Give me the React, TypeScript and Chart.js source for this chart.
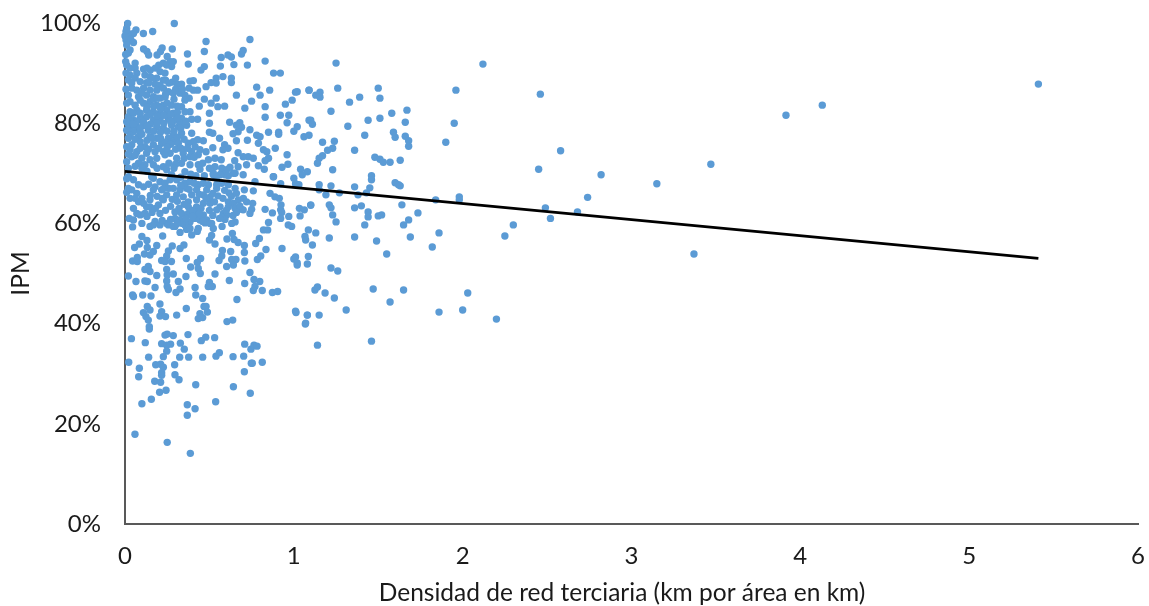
import React, { useEffect, useRef } from "react";
import { Chart, registerables } from "chart.js";

Chart.register(...registerables);

type P = [number, number];

const xTicks = [0, 1, 2, 3, 4, 5, 6];
const yTicks = [0, 20, 40, 60, 80, 100];
const xTitle = "Densidad de red terciaria (km por área en km)";
const yTitle = "IPM";
const trend: P[] = [[0, 70.4], [5.41, 53]];

const band90up: P[] = [
  [.016,99.9],[.292,99.9],[.065,98.6],[.164,98.3],[.109,97.9],[.48,96.3],[.74,96.7],[.01,98.9],[.006,98.3],[.02,97.9],[.05,97.9],[0,97.4],[.02,97.1],[.006,96.6],[.034,96.7],[.05,96.1],[.01,95.6],
  [.11,94.8],[.13,94.3],[.14,93.6],[.19,93.6],[.21,94.3],[.22,95],[.28,94.8],[.25,93.3],[.37,93.8],[.47,94.3],[.57,93.1],[.61,93.6],[.63,93.2],[.69,93.8],[.70,94.5],[.03,94.6],[.02,94],[.004,93.7],
  [.375,91.8],[.47,91.3],[.45,90.6],[.565,91.4],[.645,91.7],[.725,91.6],[.83,92.4],[.88,90],[.92,90],[.004,92.3],[.06,92],[.01,91.6],[.03,91],[.06,91],[.006,90],[.07,90],[.11,90.8],[.15,90.6],[.2,91.6],[.227,92],[.267,92.3],[.286,92.3],[.247,91.6],[.207,90.3],[.237,90],[.276,91.3],
  [1.25,92],[2.12,91.8],
];
const band80to90: P[] = [
  [.58,89.3],[.63,89],[.63,88.1],[.54,89],[.51,88.1],[.54,88],[.48,87.3],[.385,88.4],[.405,88.5],[.31,87.8],[.335,87.8],[.28,88.2],[.43,86.6],[.405,86.6],[.66,85.6],[.78,87.2],[.80,85.6],[.857,86.6],[1.02,86.3],[1.09,86.6],[.75,84.4],[.71,83],[.83,83.3],[.83,81.2],[.95,83.8],[.99,84.6],[.92,81.6],[.97,81.6],[.96,80.1],[1.09,80.6],
  [.47,84.8],[.54,85],[.51,84],[.55,83.3],[.59,83.4],[.44,83.4],[.38,85],[.385,82.3],[.395,80.8],[.43,80.8],[.50,82],[.5,80],[.62,80.2],[.68,80.1],
  [.03,89.6],[.118,89.6],[.148,89.3],[.06,89],[.02,88.6],[.09,88.3],[.128,88.1],[.188,89],[.227,88.6],[.207,87.6],[.178,87.8],[.006,86.8],[.04,87],[.07,86.6],[.11,87],[.148,86.6],[.188,86.6],[.227,87],[.257,86.3],[.286,86],[.326,86],[.355,85.6],
  [.02,85.6],[.08,85.3],[.128,85.6],[.168,85.3],[.207,85],[.237,85.2],[.03,84.3],[.06,83.6],[.01,84],[.148,84.3],[.11,84],[.188,83.6],[.227,83.6],[.276,83.6],[.355,84.6],[.335,83.3],[.07,82.6],[.03,82.3],[.128,82.6],[.168,82.3],[.207,82],[.247,82.6],[.286,82],[.355,82.3],[.335,81],[.02,81.3],[.01,80.3],[.05,80.6],[.09,81],[.128,81.3],[.168,80.6],[.207,80.6],[.257,81],[.296,80.6],
  [1.26,87],[1.5,87],[1.155,86.2],[1.09,86.6],[1.13,85.6],[1.155,85.2],[1.01,86.2],[1.51,85],[1.39,85.2],[1.33,84.2],[1.67,82.6],[1.58,82],[1.66,80.2],[1.95,80],[1.44,80.6],[1.51,81],[1.1,80.6],[1.11,79.8],[1.22,82.4],[1.96,86.6],[2.46,85.8],[5.41,87.8],[4.13,83.6],[3.915,81.6],
];
const band70to80: P[] = [
  [1.02,79.3],[1.0,78.4],[1.06,77.3],[1.09,77.6],[.66,79.6],[.69,79.2],[.67,78.3],[.64,77.9],[.66,76.5],[.725,76.6],[.74,78.7],[.78,77.6],[.80,77.3],[.79,76],[.85,78.2],[.91,78.2],[.91,77.8],[.89,75],[.82,74.7],[.84,74.3],[.85,73],[.83,72.5],[.96,73.7],[.965,71.8],[.93,71.2],[1.04,70.8],[.79,71.5],[.825,70.8],[.76,73],[.73,73.3],[.70,73.3],[.67,74.1],[.72,71.7],[.67,71.3],[.65,72.5],
  [.59,75.7],[.61,75],[.58,74.7],[.57,72.7],[.52,75.1],[.48,74.3],[.56,77],[.50,78.2],[.52,78],[.43,76.7],[.405,76.3],[.375,76],[.395,78],[.335,78],[.365,79.6],[.464,76.5],[.415,75.3],
  [.03,79.3],[.07,79.3],[.11,79.6],[.01,78.6],[.05,78.3],[.09,78.3],[.138,78.6],[.188,79.3],[.227,79],[.276,79.6],[.316,79.3],[.03,77.6],[.08,77.3],[.148,77.3],[.188,77],[.286,77.6],[.257,77],[.01,75.3],[.04,75.7],[.09,76.3],[.118,75.3],[.168,75.7],[.217,76],[.286,76.3],[.316,76],[.03,74.7],[.07,74.3],[.128,74],[.178,74.3],[.227,74.3],[.267,74],[.345,74],[.395,74.3],[.444,74.7],[.04,73.3],[.1,73],[.148,72.7],[.188,73],[.237,73.7],[.306,73],[.385,73.3],[.434,73.7],[.01,72.3],[.08,72],[.118,71.7],[.168,71.7],[.227,71.3],[.335,72],[.385,71.7],[.434,71.7],[.494,72.7],[.533,73],[.444,70.8],[.533,71.3],[.573,71],[.602,70.7],[.622,71.2],[.642,70],[.355,70.3],[.247,70.7],[.573,70],[.652,70],
  [1.32,79.4],[1.59,78.2],[1.6,77.2],[1.66,77.4],[1.68,76.5],[1.68,75.4],[1.42,77.6],[1.9,76.2],[2.58,74.5],[1.36,74.6],[1.24,76.4],[1.23,75],[1.17,76.2],[1.2,74.6],[1.17,73.5],[1.15,73],[1.14,72],[1.48,73.2],[1.51,72.8],[1.53,72.2],[1.57,72.2],[1.63,72.6],[2.45,70.8],[3.47,71.8],[1.08,70.3],[1.23,70.7],
];
const band60to70: P[] = [
  [.01,68.9],[.01,66.2],[.05,63],[.08,64.3],[.025,61],[.1,60],[.05,68.7],[.08,67.7],[.11,67.3],[.04,66.7],[.168,69],[.178,67.3],[.207,68.3],[.237,68],[.267,68.7],[.306,68.7],[.355,68],[.385,68.3],[.217,66.7],[.286,67],[.326,66.7],[.365,67],[.434,67.7],[.464,68],[.494,67.7],[.543,67.7],[.573,68],[.523,69.7],[.592,69.7],[.612,67.7],[.652,67],[.424,66.7],[.484,66.7],[.543,67],[.616,66.1],[.168,66.7],
  [.02,69.3],[.158,69.3],[.276,69.7],[.563,69.7],[.523,70],[.612,69.5],[.70,69.7],[.88,69.3],[1.0,69],
  [.247,65.7],[.306,65.7],[.375,64.3],[.424,64.7],[.464,65.7],[.504,65.3],[.395,65.7],[.345,65.3],[.148,64.7],[.128,63.3],[.198,63.7],[.227,64.7],[.464,64],[.504,64],[.563,63.3],[.612,64.3],[.642,64],[.671,64.7],[.701,65],[.72,64.3],[.612,63.3],[.652,63],[.691,62.8],[.375,63.3],[.424,63.3],[.148,63.3],
  [.05,60.7],[.09,61.7],[.118,62],[.207,62],[.296,62.3],[.335,62],[.375,62],[.424,62.3],[.464,61.7],[.543,62.7],[.582,62],[.326,60.7],[.296,61],[.385,60.3],[.415,61],[.444,60.7],[.484,60.7],[.513,60],[.602,61.7],[.178,60.4],[.247,60],[.504,60],[.474,60.1],[.652,60.3],[.632,60],[.592,60.8],[.573,61.2],[.85,60.2],
  [1.037,61.5],[.922,62.7],[.928,62.2],[.922,61],[.97,61.4],[.83,62.8],[.873,62.1],[.924,63.7],[1.033,63],[1.062,62.7],[1.1,63.6],[1.03,67.7],[.922,67.9],[.878,69.3],[.76,66.5],[.707,66.7],[.77,68.3],[.859,66],[.888,65.3],[.914,65],[.756,64],[.75,62.8],[.74,62],[.70,62.7],
  [1.05,69.7],[1.22,67.5],[1.15,67.7],[1.15,66.7],[1.01,67.9],[1.19,65.7],[1.27,66.1],[1.36,67.3],[1.38,65.7],[1.45,67.1],[1.43,66.1],[1.46,69.5],[1.46,68.7],[1.6,68.1],[1.62,67.7],[1.63,67.5],[1.1,63.7],[1.21,63.7],[1.22,63.1],[1.36,63.1],[1.4,63.5],[1.44,62.3],[1.5,61.5],[1.52,61.7],[1.44,61.3],[1.23,61.7],[1.25,60.3],[1.64,63.7],[1.735,62.1],[1.68,60.7],[2.82,69.7],[3.15,67.9],[2.74,65.2],[1.98,65.3],[1.98,64.7],[1.84,64.7],[2.68,62.3],[2.49,63.1],[2.52,61],
];
const band40to60: P[] = [
  [.045,59.3],[.1,57.4],[.085,55.9],[.057,55.2],[.13,56.6],[.132,55.2],[.188,55.6],[.168,54.4],[.115,53.9],[.148,53.7],[.28,55.5],[.257,54.5],[.247,53.5],[.217,52.6],[.237,52.4],[.275,52.4],[.045,52.5],[.073,53.2],[.073,52.4],[.138,51.4],[.118,50.8],[.148,50.4],[.188,49.6],[.02,49.5],[.065,48.4],[.118,48.5],[.132,48.4],[.178,47.2],[.247,50.8],[.25,49.7],[.286,49.9],[.247,48.5],[.316,48.4],[.25,47.4],[.257,46.8],[.326,46.9],[.302,46.2],[.363,53],[.389,51.3],[.361,49.4],[.448,53],[.428,52.2],[.434,51],[.446,50],[.533,49.9],[.5,48.2],[.493,47.4],[.517,47.4],[.415,47.2],[.419,45.7],[.46,45],[.468,43.4],[.48,43.4],[.488,42.3],[.444,42],[.434,41],[.46,41.2],[.363,43],[.306,41.7],[.207,43.9],[.217,42.4],[.207,41.5],[.24,41.4],[.132,43.4],[.148,42.7],[.109,42.2],[.124,41.4],[.138,40.7],[.045,45.7],[.05,45.4],[.105,45.7],[.154,45.5],[.604,40.4],[.638,40.7],[.663,44.8],[.618,48.6],[.709,48],[.74,50.2],[.764,48.8],[.798,48.4],[.77,47.4],[.76,46.6],[.813,46.6],[.873,46.2],[.904,46.4],[1.013,42.2],[1.08,41.7],[1.068,39.9],[1.0,52.9],[1.02,51.7],[1.086,53.4],[.93,55],[.835,54.8],[.804,53.5],[.784,52.8],[.71,52.5],[.707,54.2],[.707,55.6],[.67,56.2],[.646,56.8],[.604,56.9],[.636,58],[.626,54.4],[.577,54.6],[.573,53.5],[.557,52.6],[.632,52.8],[.657,52.8],[.642,51.7],[.602,51.4],[.5,56.7],[.513,57.6],[.533,55.9],[.326,55],[.349,55.7],[.774,56],[.796,57],[.82,58.7],[.845,58.7],[1.066,57.4],[1.086,58.7],[.967,59.7],[.987,59.4],
  [.575,59.4],[.523,59],[.434,59],[.428,58.4],[.395,57.7],[.365,58.8],[.326,58.2],[.296,59.4],[.223,57.5],[.148,59.4],[.207,59.7],[.355,59.7],[.168,59.7],[.257,59.7],[.286,59.4],[.385,59],
  [2.3,59.7],[2.25,57.5],[3.37,53.9],[1.86,58.1],[1.82,55.3],[1.69,57.3],[1.65,59.7],[1.42,59.7],[1.55,53.9],[1.49,56.5],[1.36,57.3],[1.21,57.1],[1.13,58.1],[1.11,55.7],[1.07,56.7],[1.01,53.3],[1.02,52.1],[1.08,51.9],[1.22,51.1],[1.26,50.5],[1.125,46.7],[1.14,47.3],[1.185,46.1],[1.24,45.1],[1.31,42.7],[1.01,42.5],[1.08,41.7],[1.07,40.1],[1.15,41.7],[1.47,46.9],[1.65,46.7],[1.57,44.3],[2.03,46.1],[2.0,42.7],[1.86,42.3],[2.2,40.9],
];
const bandBelow40: P[] = [
  [.144,39.4],[.144,38.9],[.038,37],[.237,37.7],[.25,37.9],[.286,37.6],[.373,37.8],[.478,37.3],[.452,36.6],[.531,37.2],[.12,36.2],[.217,36],[.247,35.7],[.27,35.9],[.328,36.1],[.351,34.9],[.247,34.5],[.227,33.4],[.14,33.3],[.324,33.3],[.377,33.3],[.46,33.3],[.539,33.5],[.559,34.2],[.64,33.4],[.703,33.5],[.709,35.9],[.746,34.9],[.764,35.7],[.782,35.5],[.748,32.1],[.754,32.1],[.813,32.3],[.707,30.4],[.022,32.3],[.085,31.1],[.081,29.4],[.182,31.8],[.211,31.9],[.227,31.3],[.294,31.8],[.217,30.2],[.217,29.7],[.296,29.8],[.32,28.8],[.176,28.5],[.211,28.3],[.419,27.8],[.642,27.4],[.742,26.1],[.205,26.3],[.243,26.7],[.156,24.9],[.1,24],[.369,23.8],[.415,23],[.369,21.7],[.537,24.4],[.059,17.9],[.25,16.3],[.387,14.1],[1.14,35.7],[1.46,36.5],
];
const denseUpper: P[] = [
  [.04,88],[.1,86],[.14,88],[.17,84.8],[.19,85],[.09,84.6],[.13,83.2],[.17,83.4],[.21,83],[.25,84],[.29,84.8],[.31,83.4],[.05,82],[.09,82],[.15,81.8],[.19,81.4],[.23,81.6],[.27,81.8],[.31,82.2],[.33,80],[.03,80.8],[.07,80.4],[.11,80.2],[.15,79.8],[.19,80],[.23,80],[.27,80.4],[.31,81],
  [.02,79.8],[.05,79.8],[.09,79],[.13,79.4],[.17,78.4],[.21,78.2],[.25,78.4],[.29,78.4],[.33,79],[.36,80.4],[.02,77],[.06,76.8],[.1,77.8],[.13,76.6],[.16,77],[.21,77],[.24,76.2],[.27,75.8],[.31,77.2],[.35,76.8],[.02,73.8],[.06,73.6],[.09,75],[.14,74.8],[.2,75],[.25,75.2],[.3,74.8],[.33,75],[.37,75],[.41,73.2],[.02,71],[.06,71.4],[.1,71],[.13,70.4],[.19,71],[.26,72],[.3,71.8],[.35,73],[.46,72],[.5,71],[.54,69],[.47,69.5],[.42,69.5],[.39,69.8],[.33,69.2],[.29,71],
  [.13,91],[.16,89],[.18,91],[.24,88.6],[.26,88],[.3,89],[.24,85.8],[.3,86.8],[.34,86.8],[.38,87],
];
const denseLower: P[] = [
  [.02,67],[.03,65],[.07,66],[.1,65],[.14,67.8],[.19,65.4],[.22,65],[.26,67],[.28,64.8],[.31,64.4],[.33,67.6],[.35,63.8],[.38,66.8],[.41,68],[.44,65.8],[.45,63],[.48,65],[.52,66],[.55,65.5],[.58,65],[.59,66.6],[.63,65.4],[.66,66],[.68,63.5],[.07,62],[.11,64],[.13,61.4],[.16,62.2],[.18,63],[.24,62.6],[.27,63.4],[.32,63],[.34,60],[.4,62.6],[.44,62],[.5,62.6],[.53,64.3],[.56,61],[.6,62.6],[.64,61.6],[.66,62.2],[.22,60.6],[.27,60.8],[.31,60],[.36,61],[.4,61.4],[.46,60.4],[.52,61.6],[.06,65],[.15,65.6],[.23,67],
];

const scatterPoints: P[] = [...band90up, ...band80to90, ...band70to80, ...band60to70, ...band40to60, ...bandBelow40, ...denseUpper, ...denseLower];
const toXY = (list: P[]) => list.map(([x, y]) => ({ x, y }));

const FONT = "Lato";
const INK = "#1a1a1a";

export default function App() {
  const ref = useRef<HTMLCanvasElement>(null);
  useEffect(() => {
    document.body.style.margin = "0";
    const chart = new Chart(ref.current!, {
      type: "scatter",
      data: {
        datasets: [
          {
            data: toXY(trend),
            showLine: true,
            borderColor: "#000000",
            borderWidth: 2.8,
            pointRadius: 0,
            clip: false,
            order: 0,
          },
          {
            data: toXY(scatterPoints),
            backgroundColor: "#5B9BD5",
            borderWidth: 0,
            pointRadius: 3.7,
            pointHoverRadius: 3.7,
            clip: false,
            order: 1,
          },
        ],
      },
      options: {
        animation: false,
        responsive: false,
        maintainAspectRatio: false,
        layout: { padding: { top: 23, right: 11, left: 0, bottom: 0 } },
        plugins: { legend: { display: false }, tooltip: { enabled: false } },
        scales: {
          x: {
            type: "linear",
            min: xTicks[0],
            max: xTicks[xTicks.length - 1],
            afterBuildTicks: (s: any) => { s.ticks = xTicks.map((value) => ({ value })); },
            afterFit: (s: any) => { s.height = 82; s.paddingLeft = 0; s.paddingRight = 0; },
            grid: { display: false, drawTicks: false },
            border: { display: true, color: "#595959", width: 2 },
            ticks: { color: INK, font: { family: FONT, size: 24 }, padding: 18, maxRotation: 0, autoSkip: false },
            title: { display: true, text: xTitle + "\u00A0\u00A0\u00A0", color: INK, font: { family: FONT, size: 24.5 }, padding: { top: 0, bottom: -2 } },
          },
          y: {
            type: "linear",
            min: yTicks[0],
            max: yTicks[yTicks.length - 1],
            afterBuildTicks: (s: any) => { s.ticks = yTicks.map((value) => ({ value })); },
            afterFit: (s: any) => { s.width = 125; s.paddingTop = 0; s.paddingBottom = 0; },
            grid: { display: false, drawTicks: false },
            border: { display: true, color: "#595959", width: 2 },
            ticks: { color: INK, font: { family: FONT, size: 24 }, padding: 24, callback: (v: any) => `${v}%` },
            title: { display: true, text: yTitle, color: INK, font: { family: FONT, size: 24.5 }, padding: { top: 6, bottom: 0 } },
          },
        },
      },
    } as any);
    return () => chart.destroy();
  }, []);
  return <canvas ref={ref} width={1149} height={606} style={{ display: "block" }} />;
}
